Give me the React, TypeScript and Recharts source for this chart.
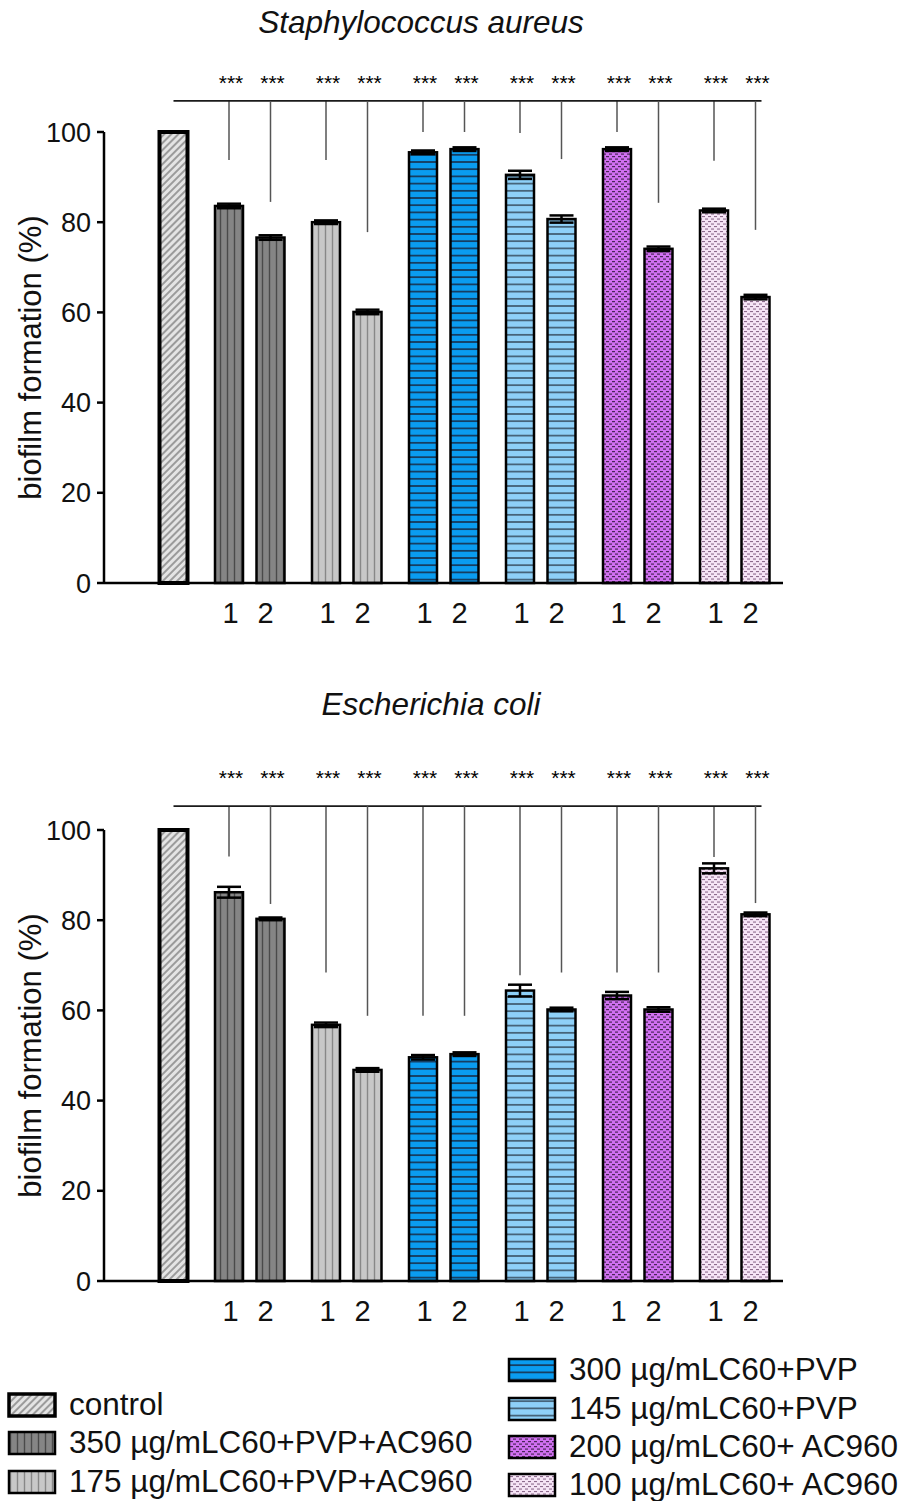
import React from 'react';
import { BarChart, Bar, XAxis, YAxis, ErrorBar } from 'recharts';

// ---------- data ----------
const CATEGORIES = ['control', '350', '175', '300', '145', '200', '100'];
const PATTERN_IDS = ['control', 'g350', 'g175', 'g300', 'g145', 'g200', 'g100'];
const LEGEND_LABELS = [
  'control',
  '350 µg/mLC60+PVP+AC960',
  '175 µg/mLC60+PVP+AC960',
  '300 µg/mLC60+PVP',
  '145 µg/mLC60+PVP',
  '200 µg/mLC60+ AC960',
  '100 µg/mLC60+ AC960',
];
const Y_TICKS = [0, 20, 40, 60, 80, 100];
const SUB_LABELS = ['1', '2'];
const STARS = '***';

// Staphylococcus aureus
const SA_BAR1 = [null, 83.6, 80.0, 95.5, 90.5, 96.2, 82.6];
const SA_BAR2 = [100, 76.6, 60.1, 96.2, 80.7, 74.1, 63.4];
const SA_ERR1 = [null, 0.5, 0.4, 0.4, 0.9, 0.4, 0.4];
const SA_ERR2 = [null, 0.5, 0.5, 0.4, 0.8, 0.5, 0.5];
const SA_LINE1 = [null, 93.8, 93.8, 100, 99.8, 100, 93.6];
const SA_LINE2 = [null, 84.5, 77.8, 100, 94.0, 84.3, 78.3];

// Escherichia coli
const EC_BAR1 = [null, 86.2, 56.8, 49.6, 64.4, 63.3, 91.5];
const EC_BAR2 = [100, 80.3, 46.8, 50.3, 60.2, 60.2, 81.3];
const EC_ERR1 = [null, 1.2, 0.5, 0.5, 1.3, 0.8, 1.1];
const EC_ERR2 = [null, 0.3, 0.4, 0.4, 0.4, 0.5, 0.4];
const EC_LINE1 = [null, 94.1, 68.4, 58.8, 67.8, 68.4, 94.0];
const EC_LINE2 = [null, 83.6, 58.8, 58.8, 68.4, 68.4, 83.8];

const buildData = (b1, b2, e1, e2, l1, l2) =>
  CATEGORIES.map((cat, i) => ({ cat, v1: b1[i], v2: b2[i], e1: e1[i], e2: e2[i], l1: l1[i], l2: l2[i] }));

const SA_DATA = buildData(SA_BAR1, SA_BAR2, SA_ERR1, SA_ERR2, SA_LINE1, SA_LINE2);
const EC_DATA = buildData(EC_BAR1, EC_BAR2, EC_ERR1, EC_ERR2, EC_LINE1, EC_LINE2);

// ---------- layout ----------
const FONT = '"Liberation Sans", Arial, Helvetica, sans-serif';
const W = 905;
const H = 660;
const M_TOP = 132;
const M_RIGHT = 122;
const Y_W = 104;
const X_H = 77;
const PLOT_W = W - Y_W - M_RIGHT;
const BAND = PLOT_W / CATEGORIES.length;
const BAR_SIZE = 28;
const BAR_GAP = 13.5;

function Patterns() {
  return (
    <svg width={0} height={0} style={{ position: 'absolute' }}>
      <defs>
        <pattern id="p-control" width={5} height={5} patternUnits="userSpaceOnUse" patternTransform="rotate(45)">
          <rect width={5} height={5} fill="#e4e4e4" />
          <line x1={1} y1={0} x2={1} y2={5} stroke="#6a6a6a" strokeWidth={1.2} />
        </pattern>
        <pattern id="p-g350" width={7} height={10} patternUnits="userSpaceOnUse">
          <rect width={7} height={10} fill="#858585" />
          <line x1={3.5} y1={0} x2={3.5} y2={10} stroke="#4a4a4a" strokeWidth={1.4} />
        </pattern>
        <pattern id="p-g175" width={7} height={10} patternUnits="userSpaceOnUse">
          <rect width={7} height={10} fill="#c8c8c8" />
          <line x1={3.5} y1={0} x2={3.5} y2={10} stroke="#888" strokeWidth={1.4} />
        </pattern>
        <pattern id="p-g300" width={10} height={7.2} patternUnits="userSpaceOnUse">
          <rect width={10} height={7.2} fill="#0a9cf0" />
          <line x1={0} y1={3.6} x2={10} y2={3.6} stroke="#1a1a2a" strokeWidth={1.3} />
        </pattern>
        <pattern id="p-g145" width={10} height={7.2} patternUnits="userSpaceOnUse">
          <rect width={10} height={7.2} fill="#8ed0f8" />
          <line x1={0} y1={3.6} x2={10} y2={3.6} stroke="#2a3a4a" strokeWidth={1.3} />
        </pattern>
        <pattern id="p-g200" width={6} height={5} patternUnits="userSpaceOnUse">
          <rect width={6} height={5} fill="#d070f0" />
          <rect x={0} y={1} width={3} height={1.2} fill="#4a2558" />
          <rect x={3} y={3.5} width={3} height={1.2} fill="#4a2558" />
        </pattern>
        <pattern id="p-g100" width={6} height={5} patternUnits="userSpaceOnUse">
          <rect width={6} height={5} fill="#f6e4f6" />
          <rect x={0} y={1} width={3} height={1.1} fill="#8c6a8c" />
          <rect x={3} y={3.5} width={3} height={1.1} fill="#8c6a8c" />
        </pattern>
      </defs>
    </svg>
  );
}

const makeShape = (valKey, lineKey, bracket, starBase) => (props) => {
  const { x, y, width, height, payload } = props;
  const v = payload ? payload[valKey] : null;
  if (v == null || !height || !isFinite(height)) return <g />;
  const idx = CATEGORIES.indexOf(payload.cat);
  const bottom = y + height;
  const k = height / v;
  const yFor = (u) => bottom - u * k;
  const cx = x + width / 2;
  const lineEnd = payload[lineKey];
  return (
    <g>
      <rect
        x={x}
        y={y}
        width={width}
        height={height}
        fill={`url(#p-${PATTERN_IDS[idx]})`}
        stroke="#000"
        strokeWidth={idx === 0 ? 4 : 2.5}
      />
      {idx === 0 && (
        <line
          x1={cx}
          x2={cx + (CATEGORIES.length - 1) * BAND + 6}
          y1={yFor(bracket)}
          y2={yFor(bracket)}
          stroke="#1a1a1a"
          strokeWidth={1.8}
        />
      )}
      {lineEnd != null && (
        <g>
          <line x1={cx} x2={cx} y1={yFor(bracket)} y2={yFor(lineEnd)} stroke="#555" strokeWidth={1.5} />
          <text x={cx + 2} y={yFor(starBase)} textAnchor="middle" fontSize={21} fontFamily={FONT} fill="#000">
            {STARS}
          </text>
        </g>
      )}
    </g>
  );
};

const SubTick = (props) => {
  const { x, y, index } = props;
  if (index === 0) return <g />;
  return (
    <g>
      <text x={x - 19} y={y + 40} textAnchor="middle" fontSize={29} fontFamily={FONT} fill="#111">
        {SUB_LABELS[0]}
      </text>
      <text x={x + 16} y={y + 40} textAnchor="middle" fontSize={29} fontFamily={FONT} fill="#111">
        {SUB_LABELS[1]}
      </text>
    </g>
  );
};

const YLabel = (props) => {
  const vb = props.viewBox || { x: 0, y: M_TOP, width: Y_W, height: 451 };
  const cx = vb.x + 30;
  const cy = vb.y + vb.height / 2;
  return (
    <text
      x={cx}
      y={cy}
      transform={`rotate(-90, ${cx}, ${cy})`}
      textAnchor="middle"
      dominantBaseline="central"
      fontSize={31}
      fontFamily={FONT}
      fill="#111"
    >
      biofilm formation (%)
    </text>
  );
};

function Panel({ data, bracket, starBase }) {
  return (
    <BarChart
      width={W}
      height={H}
      data={data}
      margin={{ top: M_TOP, right: M_RIGHT, bottom: 0, left: 0 }}
      barGap={BAR_GAP}
      style={{ overflow: 'visible' }}
    >
      <XAxis
        dataKey="cat"
        interval={0}
        height={X_H}
        tickLine={false}
        tickSize={0}
        tickMargin={0}
        tick={<SubTick />}
        axisLine={{ stroke: '#000', strokeWidth: 2.5 }}
      />
      <YAxis
        domain={[0, 100]}
        ticks={Y_TICKS}
        interval={0}
        width={Y_W}
        tickSize={7}
        tickMargin={6}
        axisLine={{ stroke: '#000', strokeWidth: 2.5 }}
        tickLine={{ stroke: '#000', strokeWidth: 2.5 }}
        tick={{ fontSize: 27, fill: '#111', fontFamily: FONT }}
        label={<YLabel />}
      />
      <Bar dataKey="v1" barSize={BAR_SIZE} isAnimationActive={false} shape={makeShape('v1', 'l1', bracket, starBase)}>
        <ErrorBar dataKey="e1" width={12} stroke="#000" strokeWidth={2.5} direction="y" />
      </Bar>
      <Bar dataKey="v2" barSize={BAR_SIZE} isAnimationActive={false} shape={makeShape('v2', 'l2', bracket, starBase)}>
        <ErrorBar dataKey="e2" width={12} stroke="#000" strokeWidth={2.5} direction="y" />
      </Bar>
    </BarChart>
  );
}

function Legend() {
  const left = [0, 1, 2];
  const right = [3, 4, 5, 6];
  const leftRows = [65, 103, 142];
  const rightRows = [30, 69, 107, 145];
  const item = (i, sx, cy) => (
    <g key={i}>
      <rect
        x={sx}
        y={cy - 11}
        width={46}
        height={22}
        fill={`url(#p-${PATTERN_IDS[i]})`}
        stroke="#000"
        strokeWidth={i === 0 ? 3.5 : 2.5}
      />
      <text x={sx + 60} y={cy + 10} fontSize={31.5} fontFamily={FONT} fill="#111">
        {LEGEND_LABELS[i]}
      </text>
    </g>
  );
  return (
    <svg width={W} height={161} style={{ position: 'absolute', left: 0, top: 1340 }}>
      {left.map((i, r) => item(i, 9, leftRows[r]))}
      {right.map((i, r) => item(i, 509, rightRows[r]))}
    </svg>
  );
}

const titleStyle = (top, center) => ({
  position: 'absolute' as const,
  top,
  left: center - 300,
  width: 600,
  textAlign: 'center' as const,
  fontFamily: FONT,
  fontStyle: 'italic',
  fontSize: 31.5,
  lineHeight: '34px',
  color: '#111',
});

export default function App() {
  return (
    <div style={{ position: 'absolute', left: 0, top: 0, width: W, height: 1501, background: '#fff' }}>
      <Patterns />
      <div style={titleStyle(5, 421)}>Staphylococcus aureus</div>
      <div style={{ position: 'absolute', left: 0, top: 0 }}>
        <Panel data={SA_DATA} bracket={106.9} starBase={109.3} />
      </div>
      <div style={titleStyle(687, 431)}>Escherichia coli</div>
      <div style={{ position: 'absolute', left: 0, top: 698 }}>
        <Panel data={EC_DATA} bracket={105.3} starBase={110.0} />
      </div>
      <Legend />
    </div>
  );
}
